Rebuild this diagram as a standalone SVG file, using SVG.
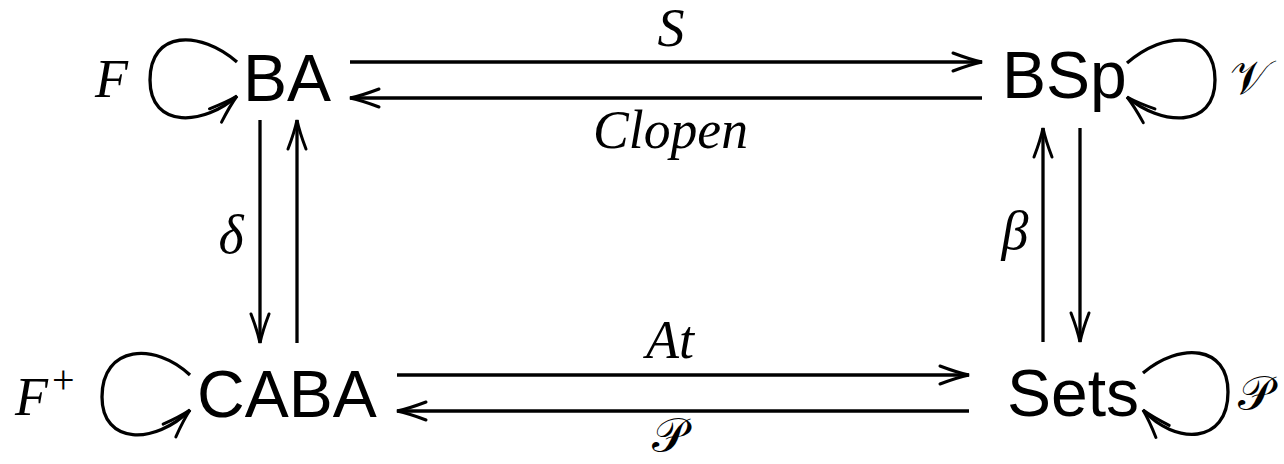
<svg xmlns="http://www.w3.org/2000/svg" width="1284" height="464" viewBox="0 0 1284 464">
<style>
.obj{font-family:"Liberation Sans",Arial,sans-serif;font-size:66px;fill:#000}
.m{font-family:"Liberation Serif","DejaVu Serif",serif;font-style:italic;font-size:54px;fill:#000}
.cal{font-family:"DejaVu Serif","Noto Sans","Liberation Serif",serif;font-size:48px;fill:#000}
.e{fill:none;stroke:#000;stroke-width:3.3;marker-end:url(#ah)}
</style>
<defs>
<marker id="ah" markerUnits="userSpaceOnUse" markerWidth="40" markerHeight="30" viewBox="-32 -15 36 30" refX="0" refY="0" orient="auto" overflow="visible">
<path d="M-29,-9 Q-12,-2.5 0,0 Q-12,2.5 -29,9" fill="none" stroke="#000" stroke-width="3" stroke-linecap="round"/>
</marker>
</defs>
<g id="connectors">
<path class="e" d="M350,62 L982,62"/>
<path class="e" d="M982,98 L350,98"/>
<path class="e" d="M397,375 L969,375"/>
<path class="e" d="M969,411 L397,411"/>
<path class="e" d="M260,120 L260,343"/>
<path class="e" d="M297,343 L297,120"/>
<path class="e" d="M1043,342 L1043,128"/>
<path class="e" d="M1080,128 L1080,342"/>
<path class="e" d="M237,62 C200,30 150,30 150,80 C150,130 205,125 237,96"/>
<path class="e" d="M1127,63 C1165,30 1215,30 1215,80 C1215,130 1160,125 1127,97"/>
<path class="e" d="M190,375 C155,342 102,345 102,397 C102,445 155,445 190,410"/>
<path class="e" d="M1143,373 C1180,342 1228,345 1228,392 C1228,445 1175,445 1143,410"/>
<text class="m" x="671" y="46" text-anchor="middle" font-size="50">S</text>
<text class="m" x="593" y="148" textLength="155" lengthAdjust="spacingAndGlyphs">Clopen</text>
<text class="m" x="231" y="253" text-anchor="middle">δ</text>
<text class="m" x="1015" y="249" text-anchor="middle">β</text>
<text class="m" x="670" y="358" text-anchor="middle">At</text>
<text class="cal" x="669" y="452" text-anchor="middle" font-size="45">𝒫</text>
</g>
<g id="node-BA">
<text class="obj" x="243" y="101">BA</text>
<text class="m" x="95" y="97">F</text>
</g>
<g id="node-BSp">
<text class="obj" x="1002" y="98">BSp</text>
<text class="cal" x="1230" y="94">𝒱</text>
</g>
<g id="node-CABA">
<text class="obj" x="197" y="417">CABA</text>
<text class="m" x="15" y="415">F<tspan font-size="40" font-style="normal" dy="-22" dx="4">+</tspan></text>
</g>
<g id="node-Sets">
<text class="obj" x="1007" y="416">Sets</text>
<text class="cal" x="1238" y="410">𝒫</text>
</g>
</svg>
